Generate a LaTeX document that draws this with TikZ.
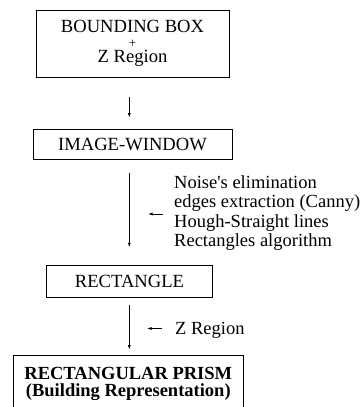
\documentclass[tikz,border=0pt]{standalone}
\usepackage{fontspec}
\setmainfont{Liberation Serif}
\usetikzlibrary{arrows.meta}
\begin{document}
\begin{tikzpicture}[x=1pt,y=-1pt,
  box/.style={draw, line width=0.8pt, inner sep=0pt, align=center, font=\fontsize{18.6}{15.2}\selectfont},
  arr/.style={line width=0.8pt, -{Latex[length=4.5pt,width=3pt]}},
  lbl/.style={inner sep=0pt, align=left, anchor=west, font=\fontsize{18.5}{19.5}\selectfont}]
\useasboundingbox (0,0) rectangle (364,407);
\node[box, minimum width=193pt, minimum height=67pt] (b1) at (132.5,43.5) {BOUNDING BOX\\{\fontsize{13}{15.2}\selectfont +}\\Z Region};
\node[box, minimum width=199pt, minimum height=30pt] (b2) at (132.5,144) {IMAGE-WINDOW};
\node[box, minimum width=165.6pt, minimum height=31.6pt] (b3) at (129.5,281.5) {RECTANGLE};
\node[box, font=\fontsize{18.5}{17}\selectfont\bfseries, minimum width=230pt, minimum height=57pt] (b4) at (128.3,384) {RECTANGULAR PRISM\\(Building Representation)};
\coordinate (ax) at (129.3,0);
\draw[arr, shorten <=20pt, shorten >=11pt] (b1.south -| ax) -- (b2.north -| ax);
\draw[arr, shorten <=13.5pt, shorten >=18pt] (b2.south -| ax) -- (b3.north -| ax);
\draw[arr, shorten <=7pt, shorten >=5.5pt] (b3.south -| ax) -- (b4.north -| ax);
\node[lbl] (t1) at (174,213) {Noise\textquotesingle s elimination\\edges extraction (Canny)\\Hough-Straight lines\\Rectangles algorithm};
\draw[arr] ([xshift=-11pt,yshift=-1pt]t1.west) -- ++(-15,0);
\node[lbl] (t2) at (175,330) {Z Region};
\draw[arr] ([xshift=-13pt,yshift=1.5pt]t2.west) -- ++(-15,0);
\end{tikzpicture}
\end{document}
